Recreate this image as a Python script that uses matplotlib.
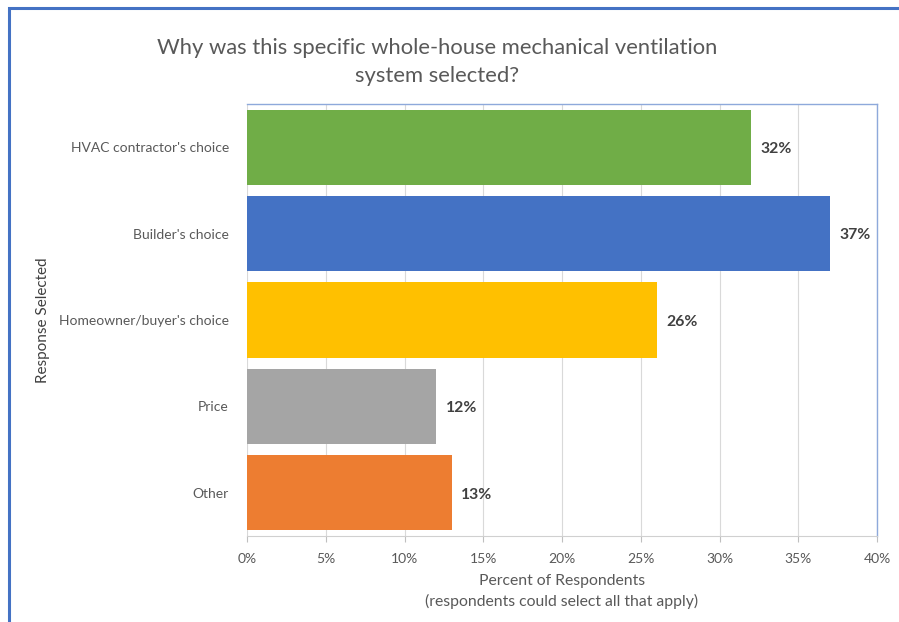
import matplotlib
matplotlib.use("Agg")
import matplotlib.pyplot as plt
from matplotlib.patches import Rectangle

plt.rcParams['font.family'] = ['Lato', 'DejaVu Sans']

# data
categories = ["HVAC contractor's choice", "Builder's choice", "Homeowner/buyer's choice", "Price", "Other"]
values = [32, 37, 26, 12, 13]
colors = ['#70AD47', '#4472C4', '#FFC000', '#A5A5A5', '#ED7D31']
xticks = [0, 5, 10, 15, 20, 25, 30, 35, 40]

W, H = 899, 622
fig = plt.figure(figsize=(W / 100, H / 100), dpi=100)

# blue outer frame (cut at right/bottom like the screenshot)
fig.patches.append(Rectangle((9 / W, -0.1), 1.2, 1.1 - 8 / H, transform=fig.transFigure,
                             fill=False, ec='#4472C4', lw=2.2))

ax = fig.add_axes([247 / W, 1 - 536 / H, (877 - 247) / W, (536 - 104) / H])

ypos = list(range(len(categories)))
ax.barh(ypos, values, height=0.87, color=colors, zorder=3)
for y, v in zip(ypos, values):
    ax.text(v + 0.6, y + 0.02, f"{v}%", va='center', ha='left', fontsize=11.3,
            fontweight='bold', color='#404040')

ax.set_ylim(len(categories) - 0.5, -0.5)
ax.set_xlim(0, 40)
ax.set_yticks(ypos)
ax.set_yticklabels(categories, fontsize=10, color='#595959')
ax.set_xticks(xticks)
ax.set_xticklabels([f"{t}%" for t in xticks], fontsize=10, color='#595959')
ax.tick_params(axis='y', length=0, pad=13)
ax.tick_params(axis='x', length=4, color='#BFBFBF', pad=8)
ax.xaxis.grid(True, color='#D9D9D9', lw=0.8, zorder=0)

for s in ['top', 'right']:
    ax.spines[s].set_color('#8EA9DB')
    ax.spines[s].set_linewidth(1.0)
ax.spines['left'].set_visible(False)
ax.spines['bottom'].set_color('#D0D0D0')

ax.set_xlabel("Percent of Respondents\n(respondents could select all that apply)",
              fontsize=11.3, color='#595959', labelpad=7, linespacing=1.45)
ax.set_ylabel("Response Selected", fontsize=11, color='#404040')
ax.yaxis.set_label_coords(-0.312, 0.5)

fig.text(437 / W, 1 - 62 / H, "Why was this specific whole-house mechanical ventilation\nsystem selected?",
         ha='center', va='center', fontsize=15.8, color='#595959', linespacing=1.5)

fig.savefig('out.png', dpi=100)
